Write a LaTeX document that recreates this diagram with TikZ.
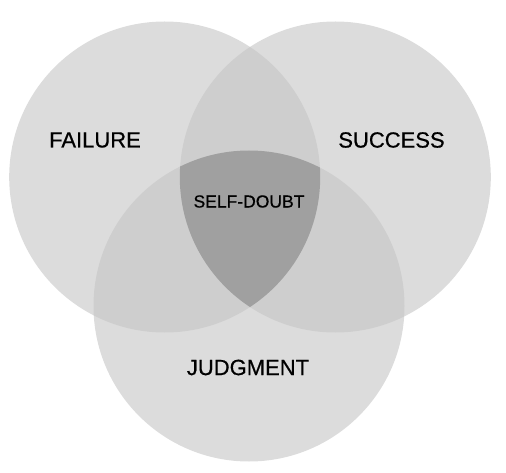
\documentclass[tikz,border=0pt]{standalone}
\usepackage{fontspec}
\setmainfont{Liberation Sans}
\newfontfamily\lblfont[FakeBold=0.6]{Liberation Sans}
\definecolor{onegray}{HTML}{DCDCDC}
\definecolor{twogray}{HTML}{CECECE}
\definecolor{threegray}{HTML}{A0A0A0}
\definecolor{ink}{HTML}{000000}
\tikzset{
  lbl/.style={text=ink, inner sep=0pt, font=\lblfont\fontsize{22}{24}\selectfont},
  lblsmall/.style={text=ink, inner sep=0pt, font=\lblfont\fontsize{17.5}{20}\selectfont},
}
\begin{document}
\begin{tikzpicture}[x=1pt,y=-1pt]
\useasboundingbox (0,0) rectangle (506,473);
\def\rr{155.5}
\fill[onegray] (164.7,177) circle (\rr);
\fill[onegray] (335.3,177) circle (\rr);
\fill[onegray] (249,306) circle (\rr);
\begin{scope}
  \clip (164.7,177) circle (\rr);
  \fill[twogray] (335.3,177) circle (\rr);
  \fill[twogray] (249,306) circle (\rr);
\end{scope}
\begin{scope}
  \clip (335.3,177) circle (\rr);
  \fill[twogray] (249,306) circle (\rr);
\end{scope}
\begin{scope}
  \clip (164.7,177) circle (\rr);
  \clip (335.3,177) circle (\rr);
  \fill[threegray] (249,306) circle (\rr);
\end{scope}
\node[lbl] (failure) at (95,140) {FAILURE};
\node[lbl] (success) at (391.5,140) {SUCCESS};
\node[lblsmall] (doubt) at (249,201.5) {SELF-DOUBT};
\node[lbl] (judgment) at (248,367.5) {JUDGMENT};
\end{tikzpicture}
\end{document}
